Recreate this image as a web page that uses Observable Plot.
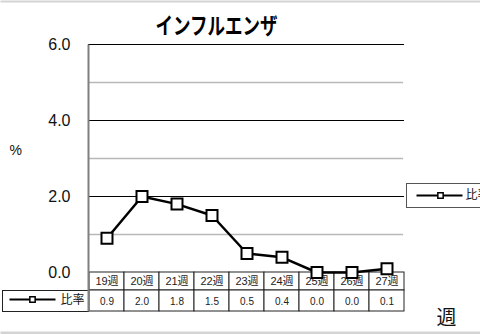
<!DOCTYPE html>
<html>
<head>
<meta charset="utf-8">
<script src="https://cdn.jsdelivr.net/npm/d3@7"></script>
<script src="https://cdn.jsdelivr.net/npm/@observablehq/plot@0.6"></script>
<style>
  html, body { margin: 0; padding: 0; background: #fff; }
</style>
</head>
<body>
<div id="chart"></div>
<script>
const title = "インフルエンザ";
const weeks = ["19", "20", "21", "22", "23", "24", "25", "26", "27"];
const rates = [0.9, 2.0, 1.8, 1.5, 0.5, 0.4, 0.0, 0.0, 0.1];
const yTicks = [0, 2, 4, 6];
const minorGrid = [1, 3, 5];
const seriesName = "比率";
const yLabel = "%";
const xLabel = "週";

const rows = weeks.map((w, i) => ({ week: w, rate: rates[i] }));
const zero = () => 0;
const font = "'Liberation Sans', Arial, 'Noto Sans CJK JP', sans-serif";
const cjk = "'Noto Sans CJK JP', sans-serif";

const chart = Plot.plot({
  width: 480,
  height: 334,
  marginLeft: 88,
  marginRight: 76,
  marginTop: 44,
  marginBottom: 62,
  style: { background: "#fff", fontFamily: font, fontSize: "16px", color: "#111" },
  x: { type: "band", domain: weeks, padding: 0, axis: null },
  y: { domain: [0, 6], ticks: yTicks, tickFormat: d => d.toFixed(1), tickSize: 0, tickPadding: 18, label: null },
  marks: [
    // screenshot border bands
    Plot.frame({ fill: "#d4d4d4", stroke: null, insetLeft: -88, insetRight: -76, insetTop: -44, insetBottom: 270 }),
    Plot.frame({ fill: "#d4d4d4", stroke: null, insetLeft: -88, insetRight: -76, insetTop: 287, insetBottom: -62 }),
    // gridlines
    Plot.ruleY(minorGrid, { stroke: "#b8b8b8", strokeWidth: 1.5, insetRight: 1 }),
    Plot.ruleY(yTicks.filter(d => d > 0), { stroke: "#000", strokeWidth: 1 }),
    // table rows
    Plot.barY(rows, { x: "week", y1: zero, y2: zero, insetTop: 0, insetBottom: -18, fill: "#fff", stroke: "#222", strokeWidth: 1 }),
    Plot.barY(rows, { x: "week", y1: zero, y2: zero, insetTop: 18, insetBottom: -39, fill: "#fff", stroke: "#222", strokeWidth: 1 }),
    // left legend cell of the table
    Plot.frame({ stroke: "#222", strokeWidth: 1, insetLeft: -86, insetRight: 316, insetTop: 246, insetBottom: -39 }),
    Plot.frame({ fill: "#000", stroke: null, insetLeft: -79, insetRight: 349, insetTop: 254, insetBottom: -28 }),
    Plot.dot({ length: 1 }, { frameAnchor: "bottom-left", dx: -56, dy: 27, symbol: "square", r: 3, fill: "#fff", stroke: "#000", strokeWidth: 1.5 }),
    Plot.text([seriesName], { frameAnchor: "bottom-left", dx: -28, dy: 28, textAnchor: "start", lineAnchor: "middle", fontSize: 12, fill: "#111", fontFamily: cjk }),
    // left axis line
    Plot.frame({ fill: "#808080", stroke: null, insetLeft: -1, insetRight: 315, insetTop: 0, insetBottom: -39 }),
    // table texts
    Plot.text(rows, { x: "week", y: zero, text: d => d.week + "週", dy: 9, fontSize: 11, fill: "#222" }),
    Plot.text(rows, { x: "week", y: zero, text: d => d.rate.toFixed(1), dy: 29, fontSize: 10, fill: "#222" }),
    // series
    Plot.line(rows, { x: "week", y: "rate", stroke: "#000", strokeWidth: 2.5 }),
    Plot.dot(rows, { x: "week", y: "rate", symbol: "square", r: 6.2, fill: "#fff", stroke: "#000", strokeWidth: 2 }),
    // right legend
    Plot.frame({ stroke: "#555", strokeWidth: 1, insetLeft: 318, insetRight: -80, insetTop: 139, insetBottom: 65 }),
    Plot.frame({ fill: "#000", stroke: null, insetLeft: 328, insetRight: -58, insetTop: 150, insetBottom: 76 }),
    Plot.dot({ length: 1 }, { frameAnchor: "top-right", dx: 36, dy: 151, symbol: "square", r: 3, fill: "#fff", stroke: "#000", strokeWidth: 1.5 }),
    Plot.text([seriesName], { frameAnchor: "top-right", dx: 61, dy: 151, textAnchor: "start", lineAnchor: "middle", fontSize: 12, fill: "#111", fontFamily: cjk }),
    // labels
    Plot.text([yLabel], { frameAnchor: "left", dx: -79, dy: -8, lineAnchor: "middle", fontSize: 14, fill: "#111" }),
    Plot.text([xLabel], { frameAnchor: "bottom-right", dx: 42, dy: 46, textAnchor: "middle", lineAnchor: "middle", fontSize: 20, fill: "#111", fontFamily: cjk }),
    Plot.text([title], { frameAnchor: "top", dx: -30, dy: -18, textAnchor: "middle", lineAnchor: "middle", fontSize: 23, fontWeight: "bold", fill: "#000", fontFamily: cjk })
  ]
});

d3.select(chart).selectAll("text")
  .filter(function () { return this.textContent === title; })
  .attr("textLength", 122)
  .attr("lengthAdjust", "spacingAndGlyphs");

document.getElementById("chart").appendChild(chart);
</script>
</body>
</html>
